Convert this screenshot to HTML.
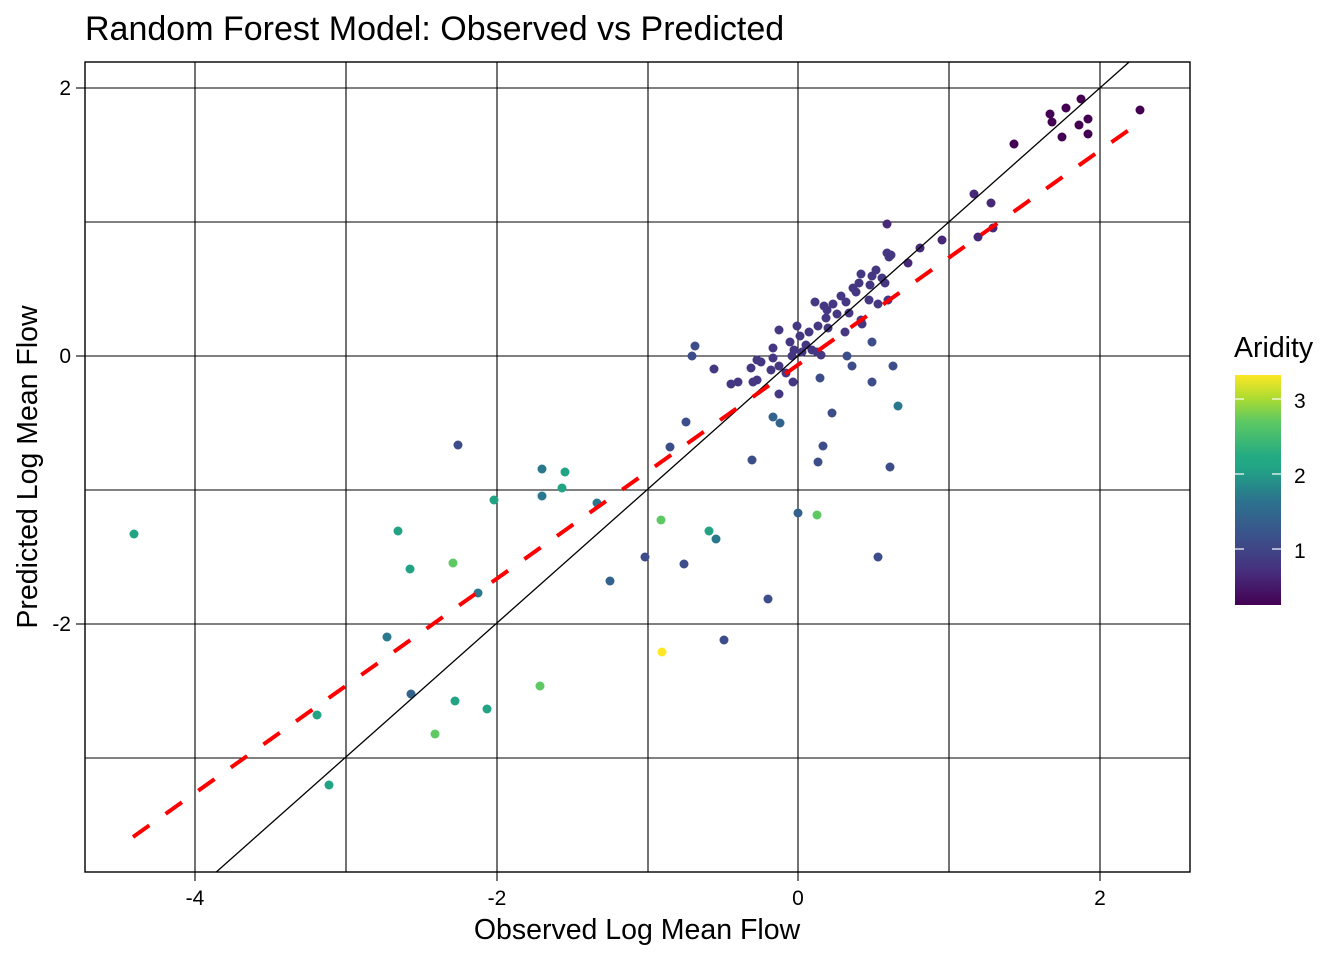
<!DOCTYPE html>
<html><head><meta charset="utf-8"><style>html,body{margin:0;background:#fff;overflow:hidden;width:1344px;height:960px}svg{display:block}text{font-family:"Liberation Sans",Arial,sans-serif}</style></head><body>
<svg width="1344" height="960" viewBox="0 0 1344 960" xmlns="http://www.w3.org/2000/svg">
<defs>
<clipPath id="c"><rect x="85" y="62" width="1105" height="810"/></clipPath>
<linearGradient id="g" x1="0" y1="1" x2="0" y2="0">
<stop offset="0" stop-color="#440154"/><stop offset="0.15" stop-color="#46307e"/><stop offset="0.3" stop-color="#3b528b"/><stop offset="0.45" stop-color="#2c728e"/><stop offset="0.6" stop-color="#21a685"/><stop offset="0.65" stop-color="#25ab82"/><stop offset="0.8" stop-color="#5ec962"/><stop offset="0.9" stop-color="#addc30"/><stop offset="1" stop-color="#fde725"/>
</linearGradient>
</defs>
<rect width="1344" height="960" fill="#fff"/>
<g stroke="#000" stroke-width="1.1">
<line x1="195" y1="62" x2="195" y2="872"/><line x1="346" y1="62" x2="346" y2="872"/><line x1="497" y1="62" x2="497" y2="872"/><line x1="648" y1="62" x2="648" y2="872"/><line x1="798" y1="62" x2="798" y2="872"/><line x1="949" y1="62" x2="949" y2="872"/><line x1="1100" y1="62" x2="1100" y2="872"/>
<line x1="85" y1="88" x2="1190" y2="88"/><line x1="85" y1="222" x2="1190" y2="222"/><line x1="85" y1="356" x2="1190" y2="356"/><line x1="85" y1="490" x2="1190" y2="490"/><line x1="85" y1="624" x2="1190" y2="624"/><line x1="85" y1="758" x2="1190" y2="758"/>
<line x1="76" y1="88" x2="85" y2="88"/><line x1="76" y1="356" x2="85" y2="356"/><line x1="76" y1="624" x2="85" y2="624"/>
<line x1="195" y1="872" x2="195" y2="881"/><line x1="497" y1="872" x2="497" y2="881"/><line x1="798" y1="872" x2="798" y2="881"/><line x1="1100" y1="872" x2="1100" y2="881"/>
</g>
<g clip-path="url(#c)">
<g fill="#440154">
<circle cx="1140" cy="110" r="4.5"/><circle cx="1050" cy="114" r="4.5"/><circle cx="1066" cy="108" r="4.5"/><circle cx="1081" cy="99" r="4.5"/><circle cx="1088" cy="119" r="4.5"/><circle cx="1079" cy="125" r="4.5"/><circle cx="1052" cy="122" r="4.5"/><circle cx="1062" cy="137" r="4.5"/><circle cx="1088" cy="134" r="4.5"/><circle cx="1014" cy="144" r="4.5"/></g>
<g fill="#462a78">
<circle cx="974" cy="194" r="4.5"/><circle cx="991" cy="203" r="4.5"/><circle cx="993" cy="228" r="4.5"/><circle cx="978" cy="237" r="4.5"/><circle cx="942" cy="240" r="4.5"/><circle cx="920" cy="248" r="4.5"/><circle cx="908" cy="263" r="4.5"/><circle cx="887" cy="224" r="4.5"/></g>
<g fill="#453781">
<circle cx="887" cy="253" r="4.5"/><circle cx="889" cy="257" r="4.5"/><circle cx="876" cy="270" r="4.5"/><circle cx="861" cy="274" r="4.5"/><circle cx="872" cy="276" r="4.5"/><circle cx="882" cy="278" r="4.5"/><circle cx="885" cy="283" r="4.5"/><circle cx="859" cy="283" r="4.5"/><circle cx="853" cy="288" r="4.5"/><circle cx="841" cy="296" r="4.5"/><circle cx="856" cy="292" r="4.5"/><circle cx="846" cy="302" r="4.5"/><circle cx="869" cy="300" r="4.5"/><circle cx="833" cy="304" r="4.5"/><circle cx="824" cy="306" r="4.5"/><circle cx="815" cy="302" r="4.5"/><circle cx="827" cy="310" r="4.5"/><circle cx="837" cy="314" r="4.5"/><circle cx="849" cy="313" r="4.5"/><circle cx="861" cy="320" r="4.5"/><circle cx="818" cy="326" r="4.5"/><circle cx="828" cy="328" r="4.5"/><circle cx="809" cy="332" r="4.5"/><circle cx="800" cy="336" r="4.5"/><circle cx="790" cy="342" r="4.5"/><circle cx="806" cy="345" r="4.5"/><circle cx="812" cy="350" r="4.5"/><circle cx="794" cy="350" r="4.5"/><circle cx="792" cy="356" r="4.5"/><circle cx="802" cy="352" r="4.5"/><circle cx="821" cy="355" r="4.5"/><circle cx="779" cy="330" r="4.5"/><circle cx="797" cy="326" r="4.5"/><circle cx="773" cy="348" r="4.5"/><circle cx="761" cy="362" r="4.5"/><circle cx="757" cy="360" r="4.5"/><circle cx="773" cy="358" r="4.5"/><circle cx="771" cy="370" r="4.5"/><circle cx="779" cy="366" r="4.5"/><circle cx="757" cy="380" r="4.5"/><circle cx="751" cy="368" r="4.5"/><circle cx="738" cy="382" r="4.5"/><circle cx="731" cy="384" r="4.5"/><circle cx="753" cy="382" r="4.5"/><circle cx="786" cy="373" r="4.5"/><circle cx="779" cy="394" r="4.5"/><circle cx="793" cy="382" r="4.5"/><circle cx="817" cy="352" r="4.5"/><circle cx="845" cy="332" r="4.5"/><circle cx="862" cy="324" r="4.5"/><circle cx="826" cy="318" r="4.5"/><circle cx="888" cy="300" r="4.5"/><circle cx="878" cy="304" r="4.5"/><circle cx="891" cy="255" r="4.5"/><circle cx="870" cy="285" r="4.5"/><circle cx="714" cy="369" r="4.5"/></g>
<g fill="#3d4d8a">
<circle cx="872" cy="342" r="4.5"/><circle cx="847" cy="356" r="4.5"/><circle cx="820" cy="378" r="4.5"/><circle cx="852" cy="366" r="4.5"/><circle cx="872" cy="382" r="4.5"/><circle cx="893" cy="366" r="4.5"/><circle cx="695" cy="346" r="4.5"/><circle cx="692" cy="356" r="4.5"/><circle cx="832" cy="413" r="4.5"/><circle cx="686" cy="422" r="4.5"/><circle cx="670" cy="447" r="4.5"/><circle cx="752" cy="460" r="4.5"/><circle cx="818" cy="462" r="4.5"/><circle cx="823" cy="446" r="4.5"/><circle cx="890" cy="467" r="4.5"/><circle cx="645" cy="557" r="4.5"/><circle cx="684" cy="564" r="4.5"/><circle cx="724" cy="640" r="4.5"/><circle cx="878" cy="557" r="4.5"/><circle cx="458" cy="445" r="4.5"/><circle cx="768" cy="599" r="4.5"/></g>
<g fill="#33638d">
<circle cx="773" cy="417" r="4.5"/><circle cx="780" cy="423" r="4.5"/><circle cx="798" cy="513" r="4.5"/><circle cx="610" cy="581" r="4.5"/><circle cx="411" cy="694" r="4.5"/></g>
<g fill="#2a788e">
<circle cx="898" cy="406" r="4.5"/><circle cx="387" cy="637" r="4.5"/><circle cx="478" cy="593" r="4.5"/><circle cx="597" cy="503" r="4.5"/><circle cx="542" cy="469" r="4.5"/><circle cx="542" cy="496" r="4.5"/><circle cx="716" cy="539" r="4.5"/></g>
<g fill="#22a384">
<circle cx="565" cy="472" r="4.5"/><circle cx="562" cy="488" r="4.5"/><circle cx="494" cy="500" r="4.5"/><circle cx="398" cy="531" r="4.5"/><circle cx="410" cy="569" r="4.5"/><circle cx="134" cy="534" r="4.5"/><circle cx="317" cy="715" r="4.5"/><circle cx="329" cy="785" r="4.5"/><circle cx="455" cy="701" r="4.5"/><circle cx="487" cy="709" r="4.5"/><circle cx="709" cy="531" r="4.5"/></g>
<g fill="#5ec962">
<circle cx="453" cy="563" r="4.5"/><circle cx="540" cy="686" r="4.5"/><circle cx="435" cy="734" r="4.5"/><circle cx="661" cy="520" r="4.5"/><circle cx="817" cy="515" r="4.5"/></g>
<circle cx="662" cy="652" r="4.5" fill="#fde725"/>
<line x1="85" y1="988.5" x2="1190" y2="8" stroke="#000" stroke-width="1.3"/>
<line x1="133" y1="837" x2="1140" y2="122" stroke="#f00" stroke-width="4" stroke-dasharray="20 20"/>
</g>
<rect x="85" y="62" width="1105" height="810" fill="none" stroke="#000" stroke-width="1.4"/>
<g font-size="21" fill="#000" text-anchor="end">
<text x="71" y="95">2</text><text x="71" y="363">0</text><text x="71" y="631">-2</text></g>
<g font-size="21" fill="#000" text-anchor="middle">
<text x="195" y="905">-4</text><text x="497" y="905">-2</text><text x="798" y="905">0</text><text x="1100" y="905">2</text></g>
<text x="637" y="939" font-size="28.5" text-anchor="middle">Observed Log Mean Flow</text>
<text transform="translate(37,467) rotate(-90)" font-size="28.5" text-anchor="middle">Predicted Log Mean Flow</text>
<text x="85" y="40" font-size="34">Random Forest Model: Observed vs Predicted</text>
<text x="1234" y="357" font-size="28.5">Aridity</text>
<rect x="1235" y="375" width="46" height="230" fill="url(#g)"/>
<g stroke="#fff" stroke-width="1.2">
<line x1="1235" y1="399" x2="1244" y2="399"/><line x1="1272" y1="399" x2="1281" y2="399"/>
<line x1="1235" y1="474" x2="1244" y2="474"/><line x1="1272" y1="474" x2="1281" y2="474"/>
<line x1="1235" y1="549" x2="1244" y2="549"/><line x1="1272" y1="549" x2="1281" y2="549"/></g>
<g font-size="21"><text x="1294" y="408">3</text><text x="1294" y="483">2</text><text x="1294" y="558">1</text></g>
</svg>
</body></html>
